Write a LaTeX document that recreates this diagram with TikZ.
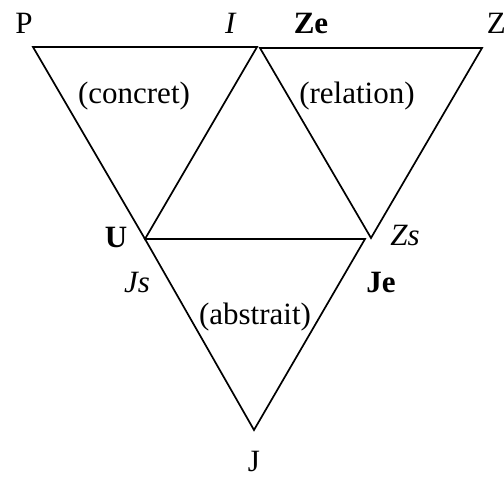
\documentclass[tikz,border=0pt]{standalone}
\usepackage{fontspec}
\setmainfont{Liberation Serif}
\usetikzlibrary{positioning}

\begin{document}
\begin{tikzpicture}[
      x=1pt, y=-1pt, line join=miter, line width=1.7pt,
      font=\fontsize{31}{36}\selectfont,
      lbl/.style={anchor=base, inner sep=0pt}
    ]
    \useasboundingbox (0,0) rectangle (504,477);

    % ------------------ Corners ------------------
    \coordinate (cP)  at (33,47);
    \coordinate (cI)  at (257,47);
    \coordinate (cU)  at (145,239);
    \coordinate (cZe) at (260,48);
    \coordinate (cZ)  at (482,48);
    \coordinate (cZs) at (371,238);
    \coordinate (cJe) at (365,239);
    \coordinate (cJ)  at (254,430);

    % ------------------ Triangles ------------------
    \draw (cP) -- (cI) -- (cU) -- cycle;
    \draw (cZe) -- (cZ) -- (cZs) -- cycle;
    \draw (cU) -- (cJe) -- (cJ) -- cycle;

    % ------------------ Corner labels ------------------
    \node[lbl] (P)  at (24,33)  {P};
    \node[lbl] (I)  at (231,33) {\textit{I}};
    \node[lbl] (Ze) at (311,33) {\textbf{Ze}};
    \node[lbl, anchor=base west] (Z) at (486,33) {Z};
    \node[lbl] (U)  at (116,247) {\textbf{U}};
    \node[lbl] (Zs) at (405,245) {\textit{Zs}};
    \node[lbl] (Js) at (137,292) {\textit{Js}};
    \node[lbl] (Je) at (381,292) {\textbf{Je}};
    \node[lbl] (J)  at (254,471) {J};

    % ------------------ Triangle names ------------------
    \node[lbl] (concret)  at (134,103) {(concret)};
    \node[lbl] (relation) at (357,103) {(relation)};
    \node[lbl] (abstrait) at (255,324) {(abstrait)};

  \end{tikzpicture}
\end{document}
